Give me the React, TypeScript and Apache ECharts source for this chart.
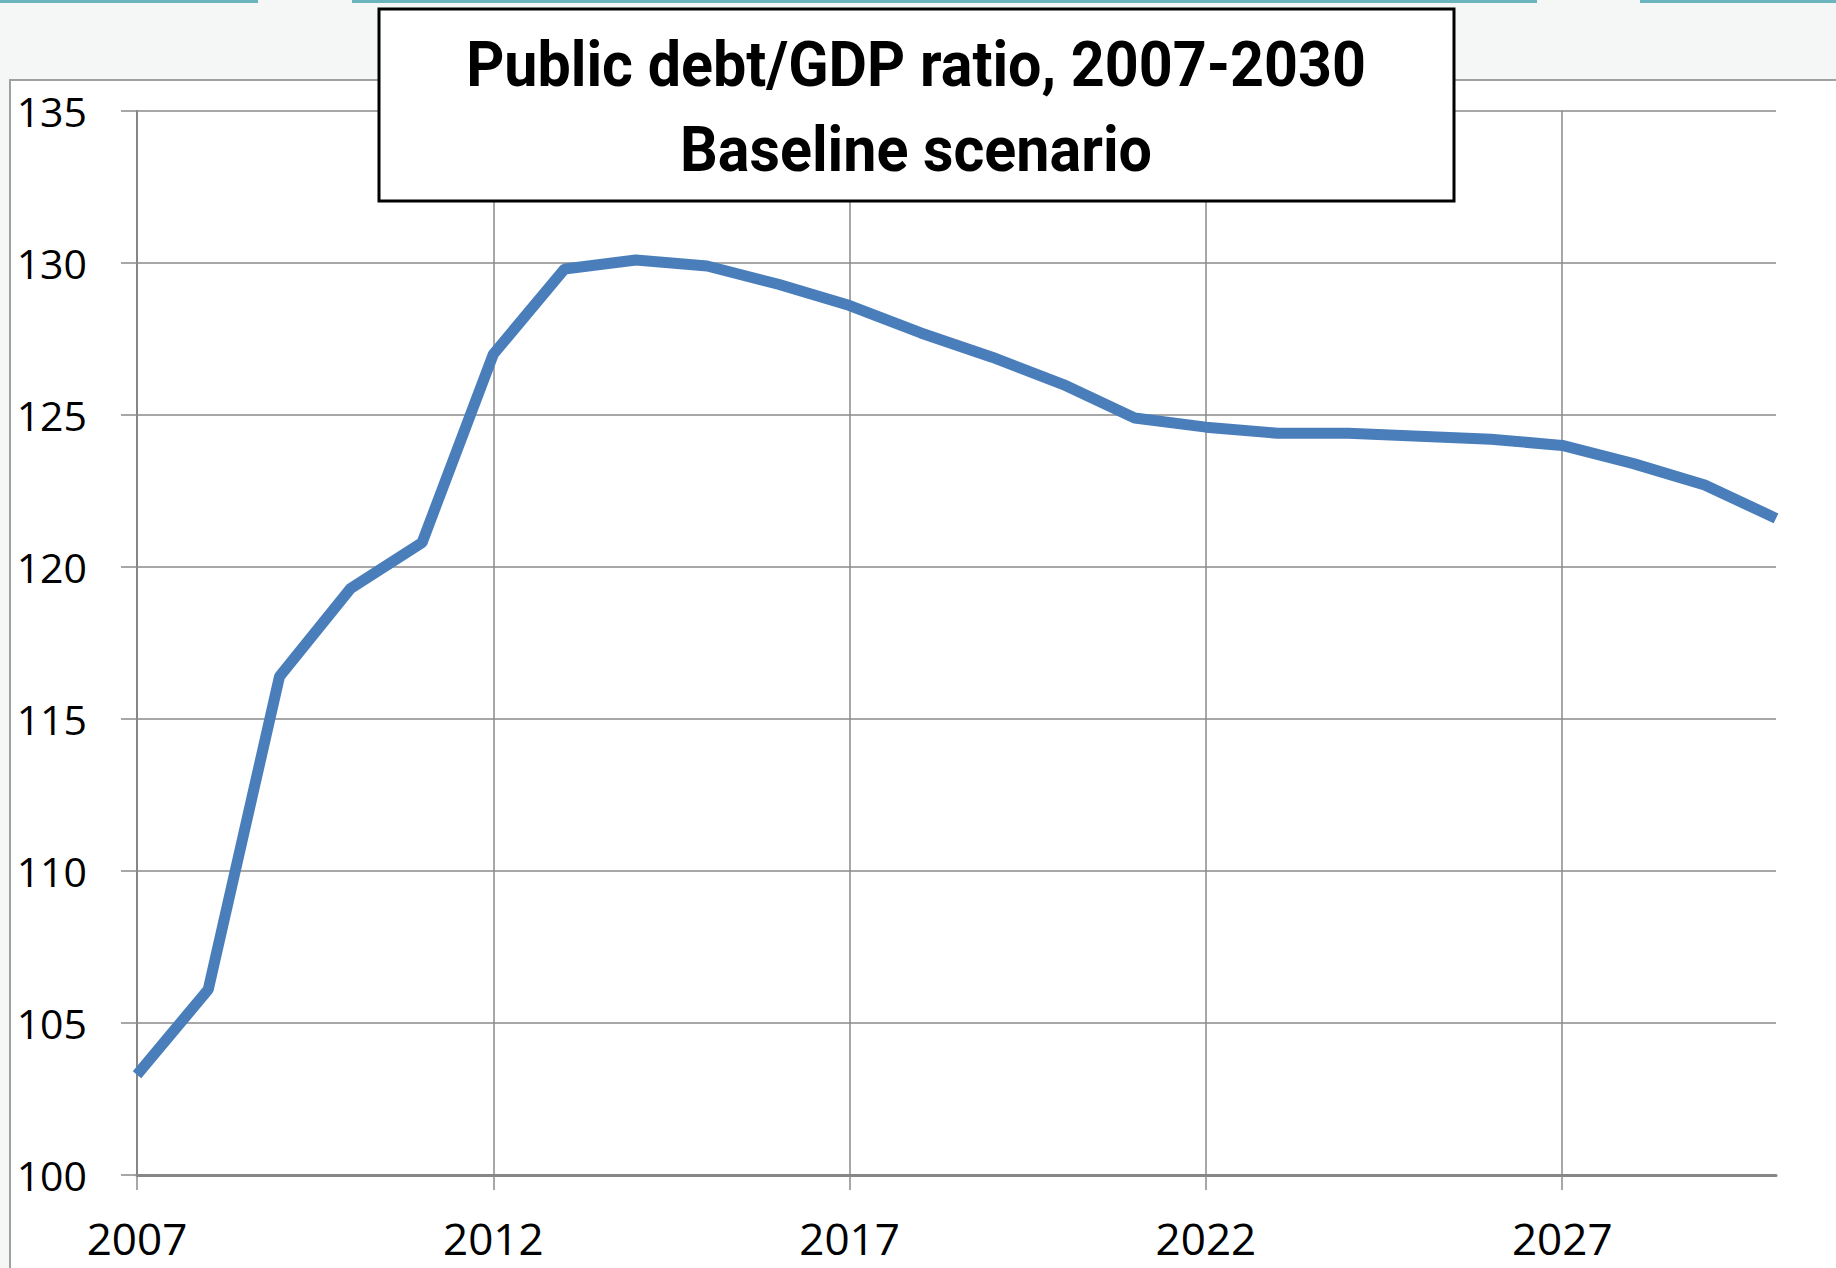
import React, { useEffect, useRef } from "react";
import * as echarts from "echarts";

const years = [
  "2007", "2008", "2009", "2010", "2011", "2012", "2013", "2014", "2015", "2016", "2017", "2018",
  "2019", "2020", "2021", "2022", "2023", "2024", "2025", "2026", "2027", "2028", "2029", "2030",
];
const debtRatio = [
  103.3, 106.1, 116.4, 119.3, 120.8, 127.0, 129.8, 130.1, 129.9, 129.3, 128.6, 127.7,
  126.9, 126.0, 124.9, 124.6, 124.4, 124.4, 124.3, 124.2, 124.0, 123.4, 122.7, 121.6,
];
const titleLines = ["Public debt/GDP ratio, 2007-2030", "Baseline scenario"];
const yMin = 100;
const yMax = 135;
const yStep = 5;

export default function App() {
  const ref = useRef<HTMLDivElement>(null);
  useEffect(() => {
    if (!ref.current) return;
    const chart = echarts.init(ref.current, null, { renderer: "svg" });
    const gray = "#8a8a8a";
    const titleFont = "bold 63px Roboto";
    chart.setOption({
      animation: false,
      backgroundColor: "#f5f7f7",
      grid: { left: 137, right: 60, top: 111, bottom: 93, containLabel: false },
      xAxis: {
        type: "category",
        data: years,
        boundaryGap: false,
        axisLine: { show: true, lineStyle: { color: "#868686", width: 3 } },
        axisTick: { show: true, interval: 4, length: 15, lineStyle: { color: gray, width: 1.5 } },
        axisLabel: {
          interval: 4,
          margin: 41,
          color: "#000",
          fontFamily: "Open Sans",
          fontSize: 44,
        },
        splitLine: { show: true, interval: 4, lineStyle: { color: gray, width: 1.5 } },
      },
      yAxis: {
        type: "value",
        min: yMin,
        max: yMax,
        interval: yStep,
        axisLine: { show: true, lineStyle: { color: "#868686", width: 2 } },
        axisTick: { show: true, length: 16, lineStyle: { color: gray, width: 1.5 } },
        axisLabel: {
          margin: 50,
          color: "#000",
          fontFamily: "Open Sans",
          fontSize: 41,
        },
        splitLine: { show: true, lineStyle: { color: gray, width: 1.5 } },
      },
      series: [
        {
          type: "line",
          data: debtRatio,
          symbol: "none",
          lineStyle: { color: "#4a7ebb", width: 11 },
        },
      ],
      graphic: [
        {
          type: "rect",
          z: -10,
          silent: true,
          shape: { x: 10, y: 80, width: 1830, height: 1200 },
          style: { fill: "#ffffff", stroke: "#a0a0a0", lineWidth: 2 },
        },
        {
          type: "rect",
          z: -9,
          silent: true,
          shape: { x: 0, y: 0, width: 258, height: 3 },
          style: { fill: "#6cb4bd" },
        },
        {
          type: "rect",
          z: -9,
          silent: true,
          shape: { x: 352, y: 0, width: 1185, height: 3 },
          style: { fill: "#6cb4bd" },
        },
        {
          type: "rect",
          z: -9,
          silent: true,
          shape: { x: 1640, y: 0, width: 196, height: 3 },
          style: { fill: "#6cb4bd" },
        },
        {
          type: "rect",
          z: 100,
          shape: { x: 379, y: 9, width: 1075, height: 192 },
          style: { fill: "#ffffff", stroke: "#000000", lineWidth: 3 },
        },
        {
          type: "text",
          z: 101,
          x: 916,
          y: 64,
          scaleX: 0.94,
          style: {
            text: titleLines[0],
            fill: "#000",
            font: titleFont,
            textAlign: "center",
            textVerticalAlign: "middle",
          },
        },
        {
          type: "text",
          z: 101,
          x: 916,
          y: 149,
          scaleX: 0.94,
          style: {
            text: titleLines[1],
            fill: "#000",
            font: titleFont,
            textAlign: "center",
            textVerticalAlign: "middle",
          },
        },
      ],
    });
    return () => chart.dispose();
  }, []);
  return (
    <div
      ref={ref}
      style={{ position: "fixed", left: 0, top: 0, width: 1836, height: 1268 }}
    />
  );
}
